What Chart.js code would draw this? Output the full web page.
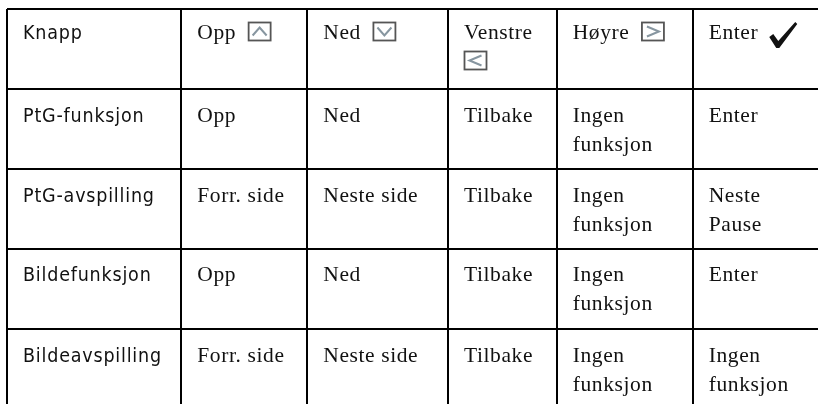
<!DOCTYPE html>
<html>
<head>
<meta charset="utf-8">
<script src="https://cdn.jsdelivr.net/npm/chart.js@4.4.1/dist/chart.umd.min.js"></script>
<style>
  html, body { margin: 0; padding: 0; background: #fff; }
  #wrap { width: 818px; height: 404px; }
</style>
</head>
<body>
<div id="wrap"><canvas id="table"></canvas></div>
<script>
// table content
const columns = ["Knapp", "Opp", "Ned", "Venstre\n", "Høyre", "Enter"];
const headerIcons = ["", "up", "down", "left", "right", "check"];
const buttons = ["PtG-funksjon", "PtG-avspilling", "Bildefunksjon", "Bildeavspilling"];
const oppValues = ["Opp", "Forr. side", "Opp", "Forr. side"];
const nedValues = ["Ned", "Neste side", "Ned", "Neste side"];
const venstreValues = ["Tilbake", "Tilbake", "Tilbake", "Tilbake"];
const hoyreValues = ["Ingen\nfunksjon", "Ingen\nfunksjon", "Ingen\nfunksjon", "Ingen\nfunksjon"];
const enterValues = ["Enter", "Neste\nPause", "Enter", "Ingen\nfunksjon"];

// layout (scale units, px from the table's top-left corner)
const colEdges = [0, 174.3, 300.3, 441, 549.7, 685.7];
const rowEdges = [0, 80.3, 160.3, 239.5, 320];

const SANS = '19.5px "DejaVu Sans Condensed", "Liberation Sans Narrow", "Liberation Sans", sans-serif';
const SERIF = '21.5px "Liberation Serif", serif';
const CELL_PAD = 16;
const LINE_GAP = 29;

const bodyRows = buttons.map((b, i) => [
    b, oppValues[i], nedValues[i], venstreValues[i], hoyreValues[i], enterValues[i],
]);

function drawKeyBox(ctx, kind, x, base) {
    const w = 22, h = 18, top = base - 17;
    ctx.save();
    ctx.strokeStyle = "#555";
    ctx.lineWidth = 1.8;
    ctx.strokeRect(x + 0.5, top + 0.5, w, h);
    ctx.strokeStyle = "#8796a0";
    ctx.lineWidth = 2;
    const cx = x + w / 2 + 0.5, cy = top + h / 2 + 0.5;
    ctx.beginPath();
    if (kind === "up") {
        ctx.moveTo(cx - 7, cy + 4); ctx.lineTo(cx, cy - 4); ctx.lineTo(cx + 7, cy + 4);
    } else if (kind === "down") {
        ctx.moveTo(cx - 7, cy - 4); ctx.lineTo(cx, cy + 4); ctx.lineTo(cx + 7, cy - 4);
    } else if (kind === "left") {
        ctx.moveTo(cx + 6, cy - 5); ctx.lineTo(cx - 6, cy); ctx.lineTo(cx + 6, cy + 5);
    } else {
        ctx.moveTo(cx - 6, cy - 5); ctx.lineTo(cx + 6, cy); ctx.lineTo(cx - 6, cy + 5);
    }
    ctx.stroke();
    ctx.restore();
}

function drawCheck(ctx, x, base) {
    ctx.save();
    ctx.fillStyle = "#111";
    ctx.beginPath();
    ctx.moveTo(x, base - 2);
    ctx.lineTo(x + 4, base - 5);
    ctx.lineTo(x + 9, base + 2);
    ctx.lineTo(x + 26, base - 17);
    ctx.lineTo(x + 28, base - 15);
    ctx.lineTo(x + 10, base + 9);
    ctx.lineTo(x + 7, base + 9);
    ctx.closePath();
    ctx.fill();
    ctx.restore();
}

const cellText = {
    id: "cellText",
    afterDraw(chart) {
        const { ctx, scales: { x, y } } = chart;
        ctx.save();
        ctx.fillStyle = "#111";
        ctx.textBaseline = "alphabetic";
        [columns, ...bodyRows].forEach((cells, r) => {
            const base = y.getPixelForValue(rowEdges[r]) + (r === 0 ? 30 : 32.5);
            cells.forEach((text, c) => {
                const left = x.getPixelForValue(colEdges[c]) + CELL_PAD;
                ctx.font = c === 0 ? SANS : SERIF;
                ctx.letterSpacing = c === 0 ? "0.8px" : "0.6px";
                const lines = text.split("\n");
                lines.forEach((line, i) => ctx.fillText(line, left, base + i * LINE_GAP));
                const icon = r === 0 ? headerIcons[c] : "";
                if (!icon) return;
                const last = lines[lines.length - 1];
                const lineBase = base + (lines.length - 1) * LINE_GAP;
                const ix = left + (last ? ctx.measureText(last).width + 12 : 0);
                if (icon === "check") drawCheck(ctx, ix - 1, lineBase);
                else drawKeyBox(ctx, icon, ix, lineBase);
            });
        });
        ctx.restore();
    },
};

const gridAxis = (edges, extra) => ({
    type: "linear",
    min: 0,
    afterBuildTicks: (scale) => { scale.ticks = edges.map((value) => ({ value })); },
    ticks: { display: false },
    grid: { color: "#000", lineWidth: 2, drawTicks: false },
    border: { display: false },
    ...extra,
});

new Chart(document.getElementById("table"), {
    type: "scatter",
    data: { datasets: [] },
    options: {
        responsive: true,
        maintainAspectRatio: false,
        animation: false,
        events: [],
        layout: { padding: { left: 7, top: 9, right: 0, bottom: 0 } },
        plugins: { legend: { display: false }, tooltip: { enabled: false } },
        scales: {
            x: gridAxis(colEdges, { max: 811 }),
            y: gridAxis(rowEdges, { max: 395, reverse: true }),
        },
    },
    plugins: [cellText],
});
</script>
</body>
</html>
